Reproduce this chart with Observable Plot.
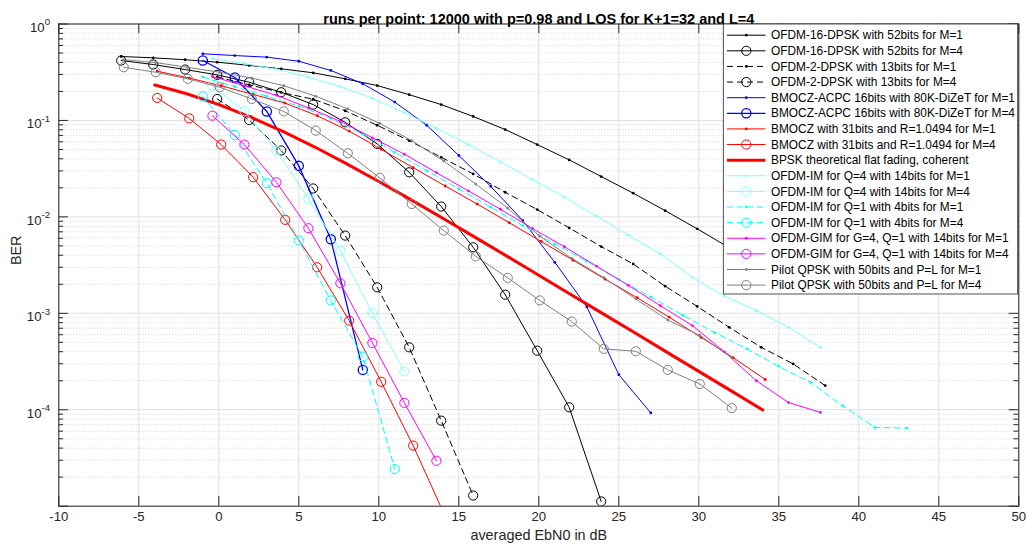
<!DOCTYPE html>
<html><head><meta charset="utf-8">
<script src="https://cdn.jsdelivr.net/npm/d3@7"></script>
<script src="https://cdn.jsdelivr.net/npm/@observablehq/plot@0.6"></script>
<style>
body{margin:0;background:#fff;}
#chart{width:1026px;height:550px;}
</style></head><body><div id="chart"></div>
<script>
// ---------- axis ticks ----------
const xTicks = [-10, -5, 0, 5, 10, 15, 20, 25, 30, 35, 40, 45, 50];
const yDecades = [1e-5, 1e-4, 1e-3, 1e-2, 1e-1, 1];
const yLabelValues = [1, 1e-1, 1e-2, 1e-3, 1e-4];
const yLabelExponents = ["0", "-1", "-2", "-3", "-4"];
const titleText = "runs per point: 12000 with p=0.98 and LOS for K+1=32 and L=4";
const xLabelText = "averaged EbN0 in dB";
const yLabelText = "BER";

// ---------- series (EbN0 in dB, BER) ----------
const labels = [
  "OFDM-16-DPSK with 52bits for M=1",
  "OFDM-16-DPSK with 52bits for M=4",
  "OFDM-2-DPSK with 13bits for M=1",
  "OFDM-2-DPSK with 13bits for M=4",
  "BMOCZ-ACPC 16bits with 80K-DiZeT for M=1",
  "BMOCZ-ACPC 16bits with 80K-DiZeT for M=4",
  "BMOCZ with 31bits and R=1.0494 for M=1",
  "BMOCZ with 31bits and R=1.0494 for M=4",
  "BPSK theoretical flat fading, coherent",
  "OFDM-IM for Q=4 with 14bits for M=1",
  "OFDM-IM for Q=4 with 14bits for M=4",
  "OFDM-IM for Q=1 with 4bits for M=1",
  "OFDM-IM for Q=1 with 4bits for M=4",
  "OFDM-GIM for G=4, Q=1 with 14bits for M=1",
  "OFDM-GIM for G=4, Q=1 with 14bits for M=4",
  "Pilot QPSK with 50bits and P=L for M=1",
  "Pilot QPSK with 50bits and P=L for M=4"
];

const dpsk16M1_x = [-6.1,-4.1,-2.1,-0.1,1.9,3.9,5.9,7.9,9.9,11.9,13.9,15.9,17.9,19.9,21.9,23.9,25.9,27.9,29.9,31.9,33.9];
const dpsk16M1_ber = [0.460,0.446,0.426,0.402,0.372,0.343,0.312,0.270,0.230,0.185,0.146,0.110,0.0805,0.0562,0.0390,0.0262,0.0176,0.0116,0.00752,0.00479,0.00302];

const dpsk16M4_x = [-6.1,-4.1,-2.1,-0.1,1.9,3.9,5.9,7.9,9.9,11.9,13.9,15.9,17.9,19.9,21.9,23.9];
const dpsk16M4_ber = [0.418,0.380,0.337,0.297,0.249,0.196,0.146,0.0957,0.0571,0.0290,0.0128,0.00484,0.00156,0.000410,0.000106,0.0000112];

const dpsk2M1_x = [-0.1,1.9,3.9,5.9,7.9,9.9,11.9,13.9,15.9,17.9,19.9,21.9,23.9,25.9,27.9,29.9,31.9,33.9,35.9,37.9];
const dpsk2M1_ber = [0.282,0.234,0.195,0.166,0.126,0.0891,0.0617,0.0415,0.0279,0.0180,0.0119,0.00769,0.00492,0.00325,0.00191,0.00118,0.000716,0.000444,0.000299,0.000178];

const dpsk2M4_x = [-0.1,1.9,3.9,5.9,7.9,9.9,11.9,13.9,15.9];
const dpsk2M4_ber = [0.167,0.101,0.0488,0.0197,0.00640,0.00186,0.000444,0.0000771,0.0000129];

const acpcM1_x = [-1,1,3,5,7,9,11,13,15,17,19,21,23,25,27];
const acpcM1_ber = [0.491,0.471,0.453,0.411,0.330,0.240,0.155,0.0891,0.0433,0.0207,0.00916,0.00338,0.00117,0.000231,0.0000927];

const acpcM4_x = [-1,1,3,5,7,9];
const acpcM4_ber = [0.418,0.279,0.124,0.0338,0.00585,0.000259];

const bmoczM1_x = [-3.85,-1.85,0.15,2.15,4.15,6.15,8.15,10.15,12.15,14.15,16.15,18.15,20.15,22.15,24.15,26.15,28.15,30.15,32.15,34.15];
const bmoczM1_ber = [0.324,0.275,0.229,0.186,0.151,0.112,0.0776,0.0501,0.0324,0.0209,0.0136,0.00871,0.00556,0.00355,0.00226,0.00145,0.000912,0.000562,0.000347,0.000206];

const bmoczM4_x = [-3.85,-1.85,0.15,2.15,4.15,6.15,8.15,10.15,12.15,14.15];
const bmoczM4_ber = [0.171,0.105,0.0562,0.0258,0.00931,0.00300,0.000839,0.000195,0.0000425,0.00000782];

const bpsk_x = [-4,-2,0,2,4,6,8,10,12,14,16,18,20,22,24,26,28,30,32,34];
const bpsk_ber = [0.233,0.189,0.146,0.108,0.0771,0.0530,0.0355,0.0233,0.0151,0.00966,0.00617,0.00392,0.00248,0.00157,0.000993,0.000628,0.000396,0.000250,0.000158,0.0000995];

const imQ4M1_x = [-0.4,1.6,3.6,5.6,7.6,9.6,11.6,13.6,15.6,17.6,19.6,21.6,23.6,25.6,27.6,29.6,31.6,33.6,35.6,37.6];
const imQ4M1_ber = [0.437,0.389,0.339,0.282,0.224,0.170,0.120,0.0832,0.0562,0.0372,0.0245,0.0160,0.0102,0.00646,0.00413,0.00236,0.00151,0.00107,0.000716,0.000444];

const imQ4M4_x = [-0.4,1.6,3.6,5.6,7.6,9.6,11.6];
const imQ4M4_ber = [0.230,0.125,0.0488,0.0154,0.00447,0.00100,0.000250];

const imQ1M1_x = [-1,1,3,5,7,9,11,13,15,17,19,21,23,25,27,29,31,33,35,37,39,41,43];
const imQ1M1_ber = [0.282,0.224,0.178,0.141,0.105,0.0724,0.0468,0.0302,0.0195,0.0126,0.00813,0.00525,0.00347,0.00224,0.00148,0.000955,0.000631,0.000428,0.000282,0.000192,0.000110,0.0000656,0.0000646];

const imQ1M4_x = [-1,1,3,5,7,9,11];
const imQ1M4_ber = [0.178,0.0708,0.0224,0.00569,0.00136,0.000355,0.0000243];

const gimM1_x = [-0.4,1.6,3.6,5.6,7.6,9.6,11.6,13.6,15.6,17.6,19.6,21.6,23.6,25.6,27.6,29.6,31.6,33.6,35.6,37.6];
const gimM1_ber = [0.285,0.229,0.182,0.135,0.0977,0.0661,0.0447,0.0288,0.0186,0.0120,0.00759,0.00490,0.00309,0.00195,0.00120,0.000746,0.000398,0.000200,0.000119,0.0000939];

const gimM4_x = [-0.4,1.6,3.6,5.6,7.6,9.6,11.6,13.6];
const gimM4_ber = [0.112,0.0562,0.0229,0.00762,0.00205,0.000493,0.000118,0.0000296];

const pilotM1_x = [-5.94,-3.94,-1.94,0.06,2.06,4.06,6.06,8.06,10.06,12.06,14.06,16.06,18.06,20.06,22.06,24.06,26.06,28.06,30.06,32.06];
const pilotM1_ber = [0.427,0.398,0.355,0.316,0.275,0.229,0.178,0.132,0.0933,0.0617,0.0380,0.0219,0.0123,0.00631,0.00372,0.00234,0.00141,0.000851,0.000589,0.000347];

const pilotM4_x = [-5.94,-3.94,-1.94,0.06,2.06,4.06,6.06,8.06,10.06,12.06,14.06,16.06,18.06,20.06,22.06,24.06,26.06,28.06,30.06,32.06];
const pilotM4_ber = [0.356,0.316,0.270,0.221,0.167,0.124,0.0785,0.0457,0.0254,0.0136,0.00721,0.00390,0.00233,0.00136,0.000820,0.000428,0.000404,0.000259,0.000185,0.000104];

// ---------- styles ----------
const BLACK = "#000000", BLUE = "#0000ff", RED = "#ff0000", PALECYAN = "#80ffff",
      CYAN = "#00ffff", MAGENTA = "#ff00ff", GRAY = "#808080";
const DASH = "6,4";
const seriesData = [
  [dpsk16M1_x, dpsk16M1_ber, BLACK, null, "dot", 1],
  [dpsk16M4_x, dpsk16M4_ber, BLACK, null, "circle", 1],
  [dpsk2M1_x, dpsk2M1_ber, BLACK, DASH, "dot", 1],
  [dpsk2M4_x, dpsk2M4_ber, BLACK, DASH, "circle", 1],
  [acpcM1_x, acpcM1_ber, BLUE, null, "dot", 1],
  [acpcM4_x, acpcM4_ber, BLUE, null, "circle", 1.3],
  [bmoczM1_x, bmoczM1_ber, RED, null, "dot", 1],
  [bmoczM4_x, bmoczM4_ber, RED, null, "circle", 1],
  [bpsk_x, bpsk_ber, RED, null, null, 3],
  [imQ4M1_x, imQ4M1_ber, PALECYAN, null, "dot", 1],
  [imQ4M4_x, imQ4M4_ber, PALECYAN, null, "circle", 1],
  [imQ1M1_x, imQ1M1_ber, CYAN, DASH, "dot", 1],
  [imQ1M4_x, imQ1M4_ber, CYAN, DASH, "circle", 1],
  [gimM1_x, gimM1_ber, MAGENTA, null, "dot", 1],
  [gimM4_x, gimM4_ber, MAGENTA, null, "circle", 1],
  [pilotM1_x, pilotM1_ber, GRAY, null, "dot", 1],
  [pilotM4_x, pilotM4_ber, GRAY, null, "circle", 1]
].map(([xs, ys, color, dash, marker, width], i) => ({
  label: labels[i], color, dash, marker, width,
  rows: xs.map((x, j) => ({x, y: ys[j]}))
}));

// ---------- layout ----------
const W = 1026, H = 550;
const mL = 58.3, mR = 7.7, mT = 23.5, mB = 44.3;
const fW = W - mL - mR, fH = H - mT - mB;
const tickLen = 9.6, minorLen = 4.8;
const FONT = "'Liberation Sans', Arial, Helvetica, sans-serif";
const AXC = "#262626";

const yMinor = [];
for (const d of [1e-5, 1e-4, 1e-3, 1e-2, 1e-1]) for (let k = 2; k <= 9; k++) yMinor.push(+(d * k).toPrecision(3));

const seriesMarks = [];
for (const s of seriesData) {
  seriesMarks.push(Plot.line(s.rows, {x: "x", y: "y", stroke: s.color, strokeWidth: s.width,
    strokeDasharray: s.dash, clip: true}));
  if (s.marker === "circle")
    seriesMarks.push(Plot.dot(s.rows, {x: "x", y: "y", r: 4.6, stroke: s.color, fill: "none",
      strokeWidth: s.width, clip: true}));
  else if (s.marker === "dot")
    seriesMarks.push(Plot.dot(s.rows, {x: "x", y: "y", r: 1.4, fill: s.color, stroke: "none", clip: true}));
}

const plot = Plot.plot({
  width: W, height: H,
  marginLeft: mL, marginRight: mR, marginTop: mT, marginBottom: mB,
  style: {fontFamily: FONT, background: "#fff"},
  x: {domain: [-10, 50], axis: null},
  y: {type: "log", domain: [1e-5, 1], axis: null},
  marks: [
    Plot.ruleY(yMinor, {y: d => d, stroke: "#bdbdbd", strokeDasharray: "1,2", strokeWidth: 0.7}),
    Plot.ruleY(yDecades, {y: d => d, stroke: "#dfdfdf"}),
    Plot.ruleX(xTicks, {x: d => d, stroke: "#dfdfdf"}),
    ...seriesMarks,
    Plot.frame({stroke: AXC}),
    Plot.tickX(xTicks, {x: d => d, insetTop: fH - tickLen, stroke: AXC}),
    Plot.tickX(xTicks, {x: d => d, insetBottom: fH - tickLen, stroke: AXC}),
    Plot.tickY(yDecades, {y: d => d, insetRight: fW - tickLen, stroke: AXC}),
    Plot.tickY(yDecades, {y: d => d, insetLeft: fW - tickLen, stroke: AXC}),
    Plot.tickY(yMinor, {y: d => d, insetRight: fW - minorLen, stroke: AXC}),
    Plot.tickY(yMinor, {y: d => d, insetLeft: fW - minorLen, stroke: AXC}),
    Plot.text(xTicks, {x: d => d, frameAnchor: "bottom", dy: 14.6, text: d => String(d),
      fontSize: 13.2, fill: AXC}),
    Plot.text([xLabelText], {frameAnchor: "bottom", dy: 33.7, fontSize: 14.4, fill: AXC}),
    Plot.text([yLabelText], {frameAnchor: "left", dx: -42.2, rotate: -90, fontSize: 14.4, fill: AXC}),
    Plot.text([titleText], {frameAnchor: "top", dy: -10.6, fontSize: 14.5, fontWeight: "bold", fill: "#000"})
  ]
});

// y tick labels with superscript exponents, positioned by the plot's y scale
const yScale = plot.scale("y");
const svg = d3.select(plot);
const gl = svg.append("g").attr("font-family", FONT).attr("fill", AXC).attr("text-anchor", "end");
yLabelValues.forEach((v, i) => {
  const py = yScale.apply(v);
  const t = gl.append("text").attr("x", mL - 8.3).attr("y", py + 8.5).attr("text-anchor", "end");
  t.append("tspan").attr("font-size", 13.2).text("10");
  t.append("tspan").attr("font-size", 9.6).attr("dy", -6.8).text(yLabelExponents[i]);
});

// legend (northeast, inside axes)
const lg = svg.append("g").attr("font-family", FONT).attr("text-anchor", "start");
const lx = 723.3, ly = 24, lw = 294.4, lh = 270;
lg.append("rect").attr("x", lx).attr("y", ly).attr("width", lw).attr("height", lh)
  .attr("fill", "#fff").attr("stroke", AXC).attr("stroke-width", 0.8);
seriesData.forEach((s, i) => {
  const cy = ly + 11.2 + 15.62 * i;
  lg.append("line").attr("x1", lx + 3.7).attr("x2", lx + 42.2).attr("y1", cy).attr("y2", cy)
    .attr("stroke", s.color).attr("stroke-width", s.width)
    .attr("stroke-dasharray", s.dash);
  const mx = lx + 23;
  if (s.marker === "circle")
    lg.append("circle").attr("cx", mx).attr("cy", cy).attr("r", 4.6).attr("fill", "none")
      .attr("stroke", s.color).attr("stroke-width", s.width);
  else if (s.marker === "dot")
    lg.append("circle").attr("cx", mx).attr("cy", cy).attr("r", 1.4).attr("fill", s.color);
  lg.append("text").attr("x", lx + 47.7).attr("y", cy).attr("dy", "0.35em")
    .attr("text-anchor", "start").attr("font-size", 11.9).attr("fill", "#000").text(s.label);
});

document.getElementById("chart").appendChild(plot);
</script></body></html>
